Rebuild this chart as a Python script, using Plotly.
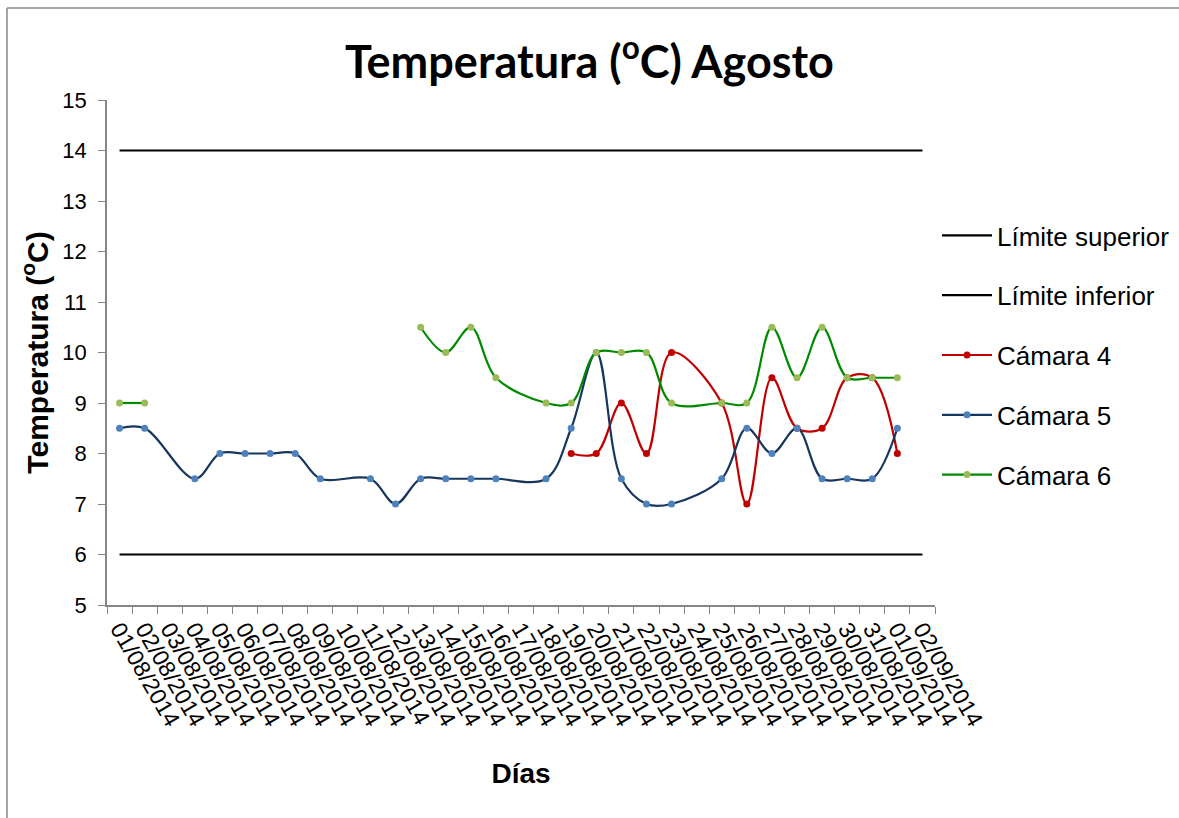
import plotly.graph_objects as go

categories = ['01/08/2014', '02/08/2014', '03/08/2014', '04/08/2014', '05/08/2014',
              '06/08/2014', '07/08/2014', '08/08/2014', '09/08/2014', '10/08/2014',
              '11/08/2014', '12/08/2014', '13/08/2014', '14/08/2014', '15/08/2014',
              '16/08/2014', '17/08/2014', '18/08/2014', '19/08/2014', '20/08/2014',
              '21/08/2014', '22/08/2014', '23/08/2014', '24/08/2014', '25/08/2014',
              '26/08/2014', '27/08/2014', '28/08/2014', '29/08/2014', '30/08/2014',
              '31/08/2014', '01/09/2014', '02/09/2014']

limite_superior = [14, 14, 14, 14, 14, 14, 14, 14, 14, 14, 14, 14, 14, 14, 14, 14, 14,
                   14, 14, 14, 14, 14, 14, 14, 14, 14, 14, 14, 14, 14, 14, 14, 14]
limite_inferior = [6, 6, 6, 6, 6, 6, 6, 6, 6, 6, 6, 6, 6, 6, 6, 6, 6,
                   6, 6, 6, 6, 6, 6, 6, 6, 6, 6, 6, 6, 6, 6, 6, 6]

camara4 = [None, None, None, None, None, None, None, None, None, None, None,
           None, None, None, None, None, None, None, 8, 8, 9, 8, 10, None, 9,
           7, 9.5, 8.5, 8.5, 9.5, 9.5, 8, None]
camara5 = [8.5, 8.5, None, 7.5, 8, 8, 8, 8, 7.5, None, 7.5, 7, 7.5, 7.5, 7.5, 7.5,
           None, 7.5, 8.5, 10, 7.5, 7, 7, None, 7.5, 8.5, 8, 8.5, 7.5, 7.5, 7.5, 8.5, None]
camara6 = [9, 9, None, None, None, None, None, None, None, None, None, None,
           10.5, 10, 10.5, 9.5, None, 9, 9, 10, 10, 10, 9, None, 9, 9, 10.5, 9.5,
           10.5, 9.5, 9.5, 9.5, None]
# first two days of Cámara 6 are a separate (unconnected) segment
camara6_break_after = 1


def present(vals, start=0, stop=None):
    stop = len(vals) if stop is None else stop
    xs, ys = [], []
    for i in range(start, stop):
        if vals[i] is not None:
            xs.append(categories[i])
            ys.append(vals[i])
    return xs, ys


fig = go.Figure()

LW = 2.2
fig.add_trace(go.Scatter(x=categories, y=limite_superior, mode='lines', name='Límite superior',
                         line=dict(color='black', width=LW), legendgroup='a'))
fig.add_trace(go.Scatter(x=categories, y=limite_inferior, mode='lines', name='Límite inferior',
                         line=dict(color='black', width=LW), legendgroup='b'))

x4, y4 = present(camara4)
fig.add_trace(go.Scatter(x=x4, y=y4, mode='lines+markers', name='Cámara 4',
                         line=dict(color='#C00000', width=LW, shape='spline', smoothing=1),
                         marker=dict(color='#C00000', size=7), legendgroup='c'))

x5, y5 = present(camara5)
fig.add_trace(go.Scatter(x=x5, y=y5, mode='lines+markers', name='Cámara 5',
                         line=dict(color='#17375E', width=LW, shape='spline', smoothing=1),
                         marker=dict(color='#4F81BD', size=7), legendgroup='d'))

x6a, y6a = present(camara6, 0, camara6_break_after + 1)
fig.add_trace(go.Scatter(x=x6a, y=y6a, mode='lines+markers', name='Cámara 6',
                         line=dict(color='#008A00', width=LW, shape='spline', smoothing=1),
                         marker=dict(color='#9BBB59', size=7), legendgroup='e', showlegend=False))
x6b, y6b = present(camara6, camara6_break_after + 1)
fig.add_trace(go.Scatter(x=x6b, y=y6b, mode='lines+markers', name='Cámara 6',
                         line=dict(color='#008A00', width=LW, shape='spline', smoothing=1),
                         marker=dict(color='#9BBB59', size=7), legendgroup='e'))

L, R, T, B = 107, 935, 100, 605
W, H = 1179, 818
pw, ph = R - L, B - T


def px(xp):
    return (xp - L) / pw


def py(yp):
    return (B - yp) / ph


frame_style = dict(color='#898989', width=1.5)

fig.update_layout(
    width=W, height=H,
    margin=dict(l=L, r=W - R, t=T, b=H - B, autoexpand=False),
    paper_bgcolor='white', plot_bgcolor='white',
    font=dict(family='Liberation Sans, Arial', color='black'),
    title=dict(text='<b>Temperatura (<sup>o</sup>C) Agosto</b>',
               font=dict(family='Lato, Open Sans', size=45, color='black'),
               x=0.5, xanchor='center', xref='container', y=1 - 62 / H, yanchor='middle'),
    showlegend=True,
    legend=dict(x=px(937), xanchor='left', y=py(212), yanchor='top',
                font=dict(size=26, family='Liberation Sans, Arial'),
                tracegroupgap=23, bgcolor='rgba(0,0,0,0)', itemwidth=50),
    xaxis=dict(type='category', categoryorder='array', categoryarray=categories,
               range=[-0.5, 32.5], tickmode='array', tickvals=categories, ticktext=categories,
               tickson='boundaries', ticks='outside', ticklen=7, tickcolor='#868686',
               showline=True, linecolor='#868686', linewidth=1.5, showgrid=False,
               tickangle=60, tickfont=dict(size=23),
               title=dict(text='<b>Días</b>', font=dict(size=28), standoff=33),
               zeroline=False, fixedrange=True),
    yaxis=dict(range=[5, 15], dtick=1, tick0=5, ticks='outside', ticklen=7, tickcolor='#868686',
               showline=True, linecolor='#868686', linewidth=1.5, showgrid=False,
               tickfont=dict(size=22), zeroline=False, ticklabelstandoff=7,
               title=dict(text='<b>Temperatura (<sup>o</sup>C)</b>', font=dict(size=30), standoff=5)),
    shapes=[
        dict(type='line', xref='paper', yref='paper', x0=px(7), x1=px(7), y0=py(H), y1=py(8),
             line=frame_style, layer='below'),
        dict(type='line', xref='paper', yref='paper', x0=px(7), x1=px(W), y0=py(8), y1=py(8),
             line=frame_style, layer='below'),
    ],
)

fig.write_html('out.html')
